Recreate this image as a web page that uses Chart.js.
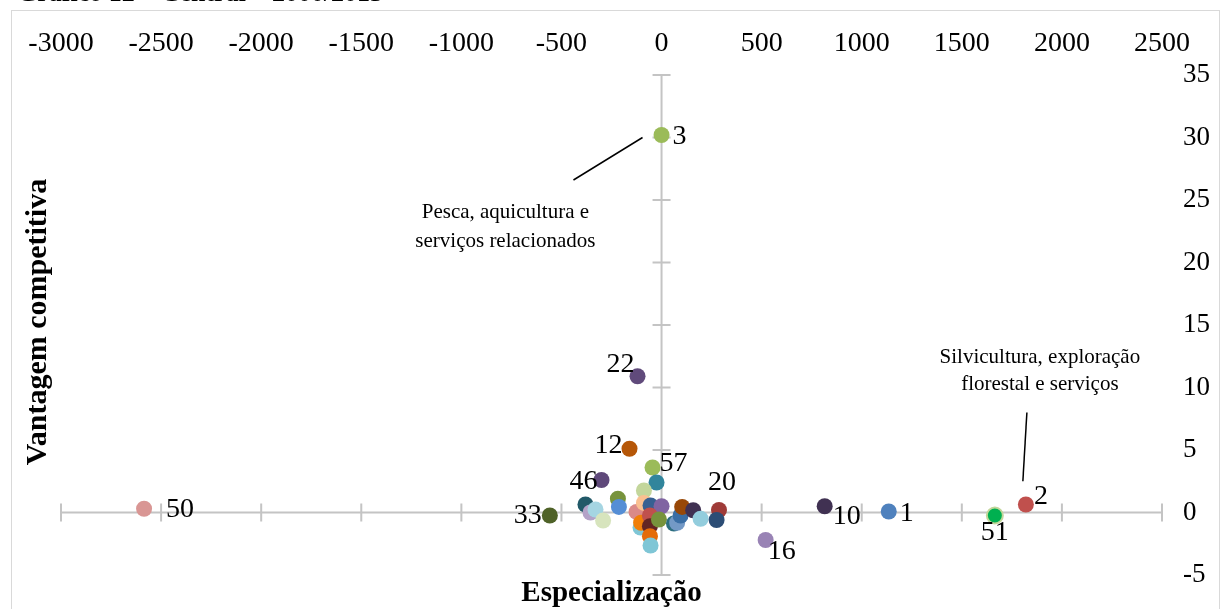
<!DOCTYPE html>
<html>
<head>
<meta charset="utf-8">
<script src="https://cdn.jsdelivr.net/npm/chart.js@4.4.1/dist/chart.umd.min.js"></script>
<style>
  html, body { margin: 0; padding: 0; background: #fff; }
  canvas { display: block; }
</style>
</head>
<body>
<canvas id="quadrant-chart" width="1227" height="609"></canvas>
<script>
// sector codes ("" = point without a label in the original)
const codes = ["50", "3", "22", "12", "57", "46", "33", "20", "16", "10", "1", "51", "2",
  "", "", "", "", "", "", "", "", "", "", "", "", "", "", "", "", "", "", "", "", "", "", "", ""];
// x = especialização, y = vantagem competitiva
const especializacao = [-2585, 0, -120, -160, -45, -300, -558, 287, 520, 815, 1135, 1665, 1820,
  -25, -88, -218, -380, -355, -330, -292, -213, -125, -88, -55, 0, -105, -102, -58, -58, -13, -58, -55, 62, 78, 95, 103, 158, 195, 275];
const vantagem = [0.3, 30.2, 10.9, 5.1, 3.6, 2.6, -0.24, 0.2, -2.2, 0.5, 0.08, -0.24, 0.64,
  2.4, 1.76, 1.1, 0.64, 0.0, 0.24, -0.64, 0.45, 0.05, 0.77, 0.56, 0.5, -1.2, -0.82, -0.24, -1.1, -0.56, -1.9, -2.64, -0.88, -0.82, -0.24, 0.45, 0.18, -0.5, -0.6];
const pointColors = ["#D99694", "#9BBB59", "#604A7B", "#B65708", "#9BBB59", "#5F497A", "#4F6228", "#9F3B38", "#9983B5", "#403152", "#4F81BD", "#00B050", "#C0504D",
  "#31859C", "#C3D69B", "#77933C", "#215968", "#B3A2C7", "#A5D5E2", "#D7E4BD", "#558ED5", "#DA8A88", "#FAC090", "#376092", "#8064A2",
  "#7FC6D6", "#F07F09", "#C0504D", "#632523", "#77933C", "#E46C0A", "#7FC6D6", "#2C6E7F", "#7399C6", "#3A6EA5", "#984807", "#403152", "#93CDDD", "#2C4D75"];
const pointBorders = pointColors.map((c, i) => codes[i] === "51" ? "#C3D69B" : c);

const xTicks = { min: -3000, max: 2500, step: 500 };
const yTicks = { min: -5, max: 35, step: 5 };

// where each data label sits relative to its point: [dx, dy, align]
const labelPlace = {
  "50": [22, 1, "left"], "3": [11, 2, "left"], "22": [-3, -12, "right"], "12": [-7, -3, "right"],
  "57": [7, -4, "left"], "46": [-4, 2, "right"], "33": [-8, 0, "right"], "20": [3, -27, "center"],
  "16": [2, 12, "left"], "10": [8, 10, "left"], "1": [11, 2, "left"], "51": [0, 17, "center"], "2": [8, -8, "left"]
};

// callout texts, anchored in data units
const callouts = [
  { lines: ["Pesca, aquicultura e", "serviços relacionados"], x: -780, y: 24, gap: 29, from: [-440, 26.6], to: [-95, 30] },
  { lines: ["Silvicultura, exploração", "florestal e serviços"], x: 1890, y: 12.4, gap: 27, from: [1825, 8.0], to: [1805, 2.5] }
];

const serif = "'Liberation Serif', 'Times New Roman', serif";

const crossAxes = {
  id: "crossAxes",
  beforeDatasetsDraw(chart) {
    const { ctx, scales: { x, y } } = chart;
    const x0 = x.getPixelForValue(0), y0 = y.getPixelForValue(0);
    ctx.save();
    ctx.strokeStyle = "#c4c4c4";
    ctx.lineWidth = 2;
    ctx.beginPath();
    ctx.moveTo(x.left, y0); ctx.lineTo(x.right, y0);
    ctx.moveTo(x0, y.top); ctx.lineTo(x0, y.bottom);
    x.ticks.forEach(t => {
      const px = x.getPixelForValue(t.value);
      ctx.moveTo(px, y0 - 9); ctx.lineTo(px, y0 + 9);
    });
    y.ticks.forEach(t => {
      const py = y.getPixelForValue(t.value);
      ctx.moveTo(x0 - 9, py); ctx.lineTo(x0 + 9, py);
    });
    ctx.stroke();
    ctx.restore();
  },
  afterDraw(chart) {
    const { ctx, chartArea, scales: { x, y } } = chart;
    ctx.save();
    // frame
    ctx.strokeStyle = "#d9d9d9";
    ctx.lineWidth = 1;
    ctx.strokeRect(11.5, 10.5, 1208, 640);
    // title (cut off at the top in the original)
    ctx.fillStyle = "#000";
    ctx.font = "bold 26px " + serif;
    ctx.textAlign = "left";
    ctx.textBaseline = "alphabetic";
    ctx.fillText("Gráfico 12 – Central – 2000/2013", 17, 1);
    // axis titles
    ctx.textAlign = "center";
    ctx.textBaseline = "middle";
    ctx.font = "bold 29px " + serif;
    ctx.fillText("Especialização", (chartArea.left + chartArea.right) / 2, 594);
    ctx.save();
    ctx.font = "bold 30px " + serif;
    ctx.translate(38, (chartArea.top + chartArea.bottom) / 2 - 3);
    ctx.rotate(-Math.PI / 2);
    ctx.fillText("Vantagem competitiva", 0, 0);
    ctx.restore();
    // data labels
    ctx.font = "28px " + serif;
    codes.forEach((c, i) => {
      if (!c) return;
      const [dx, dy, align] = labelPlace[c];
      ctx.textAlign = align;
      ctx.fillText(c, x.getPixelForValue(especializacao[i]) + dx, y.getPixelForValue(vantagem[i]) + dy);
    });
    // callouts
    ctx.font = "21px " + serif;
    ctx.textAlign = "center";
    ctx.strokeStyle = "#000";
    ctx.lineWidth = 1.5;
    callouts.forEach(co => {
      const cx = x.getPixelForValue(co.x), cy = y.getPixelForValue(co.y);
      co.lines.forEach((l, k) => ctx.fillText(l, cx, cy + k * co.gap));
      ctx.beginPath();
      ctx.moveTo(x.getPixelForValue(co.from[0]), y.getPixelForValue(co.from[1]));
      ctx.lineTo(x.getPixelForValue(co.to[0]), y.getPixelForValue(co.to[1]));
      ctx.stroke();
    });
    ctx.restore();
  }
};

const data_scatter = {
  datasets: [{
    data: especializacao.map((v, i) => ({ x: v, y: vantagem[i] })),
    backgroundColor: pointColors,
    borderColor: pointBorders,
    borderWidth: codes.map(c => c === "51" ? 2 : 0),
    pointRadius: 8,
  }],
};

const config_scatter = {
  type: "scatter",
  data: data_scatter,
  options: {
    responsive: false,
    animation: false,
    layout: { padding: { left: 61, right: 0, top: 0, bottom: 34 } },
    plugins: { legend: { display: false }, tooltip: { enabled: false } },
    scales: {
      x: {
        type: "linear",
        position: "top",
        min: xTicks.min,
        max: xTicks.max,
        grid: { display: false, drawTicks: false },
        border: { display: false },
        ticks: {
          stepSize: xTicks.step,
          color: "#000",
          padding: 15,
          maxRotation: 0,
          autoSkip: false,
          font: { family: serif, size: 28 },
          callback: v => String(v),
        },
        afterFit(s) { s.height = 75; },
      },
      y: {
        type: "linear",
        position: "right",
        min: yTicks.min,
        max: yTicks.max,
        grid: { display: false, drawTicks: false },
        border: { display: false },
        ticks: {
          stepSize: yTicks.step,
          color: "#000",
          padding: 21,
          font: { family: serif, size: 27 },
          callback: v => String(v),
        },
        afterFit(s) { s.width = 65; s.paddingBottom = 0; s.paddingTop = 0; },
      },
    },
  },
  plugins: [crossAxes],
};

var ctx_scatter = document.getElementById("quadrant-chart").getContext("2d");
var myChart_scatter = new Chart(ctx_scatter, config_scatter);
</script>
</body>
</html>
